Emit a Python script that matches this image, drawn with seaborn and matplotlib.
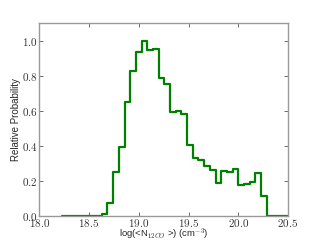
import numpy as np
import pandas as pd
import matplotlib
matplotlib.use("Agg")
import matplotlib.pyplot as plt
from matplotlib.ticker import FuncFormatter
import seaborn as sns

# Histogram data (bin edges and relative probabilities)
bin_start = 18.227
bin_width = 0.0572
rel_prob = [0, 0, 0, 0, 0, 0, 0,
            0.013, 0.075, 0.249, 0.394, 0.652, 0.828, 0.937, 1.0, 0.946,
            0.954, 0.79, 0.751, 0.595, 0.598, 0.585, 0.407, 0.331, 0.321,
            0.283, 0.26, 0.188, 0.254, 0.25, 0.27, 0.176, 0.18, 0.193,
            0.245, 0.115, 0, 0, 0, 0]
x_ticks = [18.0, 18.5, 19.0, 19.5, 20.0, 20.5]
y_ticks = [0.0, 0.2, 0.4, 0.6, 0.8, 1.0]

edges = bin_start + bin_width * np.arange(len(rel_prob) + 1)
centers = (edges[:-1] + edges[1:]) / 2
df = pd.DataFrame({"logN": centers, "prob": rel_prob})

sns.set_style("white")
plt.rcParams['font.family'] = ['Liberation Sans', 'DejaVu Sans']
plt.rcParams['mathtext.fontset'] = 'cm'

fig = plt.figure(figsize=(3.2, 2.4), dpi=100)
ax = fig.add_axes([0.123, 0.1, 0.777, 0.803])

sns.histplot(data=df, x="logN", weights="prob", bins=edges.tolist(),
             element="step", fill=False, color="green", linewidth=1.6, ax=ax)

ax.set_xlim(18.0, 20.5)
ax.set_ylim(0, 1.1)
ax.set_xticks(x_ticks)
ax.set_yticks(y_ticks)
fmt = FuncFormatter(lambda v, p: f"${v:.1f}$")
ax.xaxis.set_major_formatter(fmt)
ax.yaxis.set_major_formatter(fmt)
ax.tick_params(direction="in", length=3, width=0.6, color="#555555",
               labelsize=8, labelcolor="#333333", pad=1,
               top=True, right=True, bottom=True, left=True)
for s in ax.spines.values():
    s.set_color("#999999")
    s.set_linewidth(1.0)
    s.set_visible(True)

ax.set_xlabel(r"log(<N$_{12CO}$ >) (cm$^{-3}$)", fontsize=6.8)
ax.xaxis.set_label_coords(0.5, -0.056)
ax.set_ylabel("Relative Probability", fontsize=7)
ax.yaxis.set_label_coords(-0.075, 0.5)

fig.savefig("out.png", dpi=100)
